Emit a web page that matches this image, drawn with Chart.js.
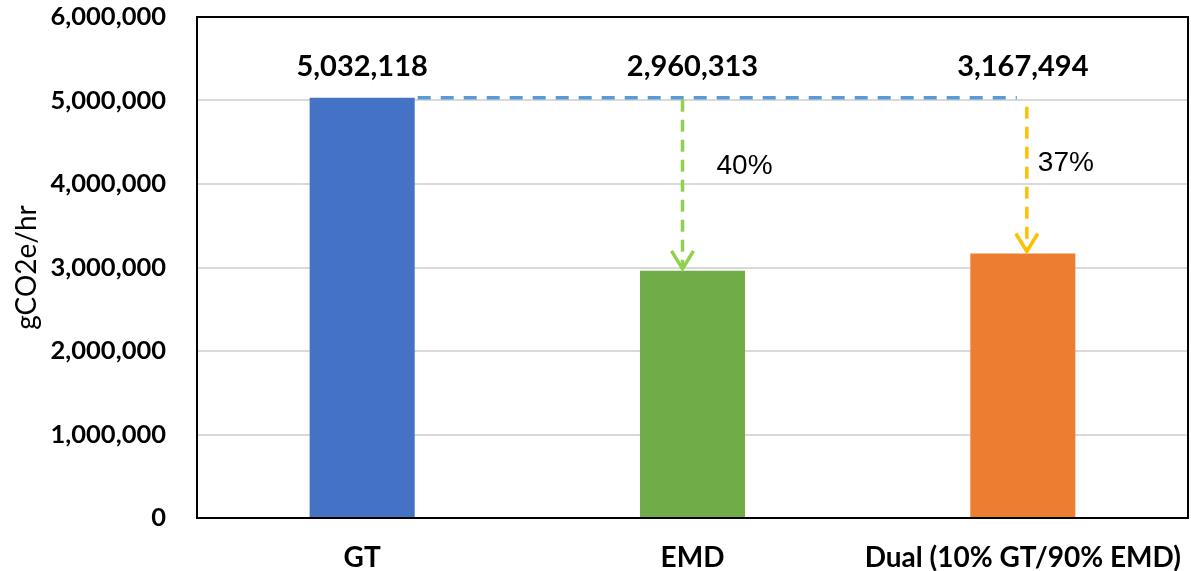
<!DOCTYPE html>
<html>
<head>
<meta charset="utf-8">
<script src="https://cdn.jsdelivr.net/npm/chart.js@4/dist/chart.umd.min.js"></script>
<style>
  html, body { margin: 0; padding: 0; background: #fff; }
  #wrap { width: 1191px; height: 571px; }
</style>
</head>
<body>
<div id="wrap"><canvas id="chart"></canvas></div>
<script>
// --- data ---
const categories = ["GT", "EMD", "Dual (10% GT/90% EMD)"];
const emissions = [5032118, 2960313, 3167494];
const barColors = ["#4472C4", "#70AD47", "#ED7D31"];
const reductionLabels = ["", "40%", "37%"];
const arrowColors = ["", "#92D050", "#FFC000"];
const yTicks = [0, 1000000, 2000000, 3000000, 4000000, 5000000, 6000000];

const fmt = v => v.toLocaleString("en-US");

// value labels, the baseline line and the reduction arrows
const overlay = {
  id: "overlay",
  afterDatasetsDraw(chart) {
    const ctx = chart.ctx;
    const area = chart.chartArea;
    const y = chart.scales.y;
    const bars = chart.getDatasetMeta(0).data;
    const base = y.getPixelForValue(emissions[0]);

    ctx.save();
    // dashed baseline from GT bar across to the last category
    ctx.strokeStyle = "#5B9BD5";
    ctx.lineWidth = 3.5;
    ctx.setLineDash([13, 10]);
    ctx.beginPath();
    ctx.moveTo(bars[0].x + bars[0].width / 2 + 3, base);
    ctx.lineTo(bars[2].x - 6, base);
    ctx.stroke();

    // arrows down to each lower bar
    for (let i = 1; i < bars.length; i++) {
      const x = bars[i].x + (i === 1 ? -10 : 4);
      const top = base + (i === 1 ? 2 : 9);
      const end = y.getPixelForValue(emissions[i]);
      ctx.strokeStyle = arrowColors[i];
      ctx.lineWidth = 3.5;
      ctx.setLineDash([12, 8]);
      ctx.beginPath();
      ctx.moveTo(x, top);
      ctx.lineTo(x, end - 4);
      ctx.stroke();
      ctx.setLineDash([]);
      ctx.beginPath();
      ctx.moveTo(x - 11, end - 20);
      ctx.lineTo(x, end - 2);
      ctx.lineTo(x + 11, end - 20);
      ctx.stroke();

      ctx.fillStyle = "#000";
      ctx.font = "28px 'Liberation Sans', Arial, sans-serif";
      ctx.textAlign = "left";
      ctx.textBaseline = "middle";
      ctx.fillText(reductionLabels[i], x + (i === 1 ? 34 : 11), area.top + (i === 1 ? 149 : 146));
    }

    // value labels sit on one row near the top
    ctx.fillStyle = "#000";
    ctx.font = "bold 29px Lato, sans-serif";
    ctx.textAlign = "center";
    ctx.textBaseline = "middle";
    bars.forEach((b, i) => ctx.fillText(fmt(emissions[i]), b.x, area.top + 50));

    // black frame round the plot area
    ctx.strokeStyle = "#000";
    ctx.lineWidth = 2;
    ctx.strokeRect(area.left, area.top, area.right - area.left, area.bottom - area.top);
    ctx.restore();
  }
};

new Chart(document.getElementById("chart"), {
  type: "bar",
  data: {
    labels: categories,
    datasets: [{
      data: emissions,
      backgroundColor: barColors,
      categoryPercentage: 1,
      barPercentage: 0.318
    }]
  },
  options: {
    responsive: true,
    maintainAspectRatio: false,
    animation: false,
    layout: { padding: { top: 17, right: 3, left: 0, bottom: 0 } },
    plugins: {
      legend: { display: false },
      tooltip: { enabled: false }
    },
    scales: {
      x: {
        grid: { display: false },
        border: { display: false },
        ticks: {
          color: "#000",
          font: { family: "Lato", weight: "bold", size: 28 },
          padding: 15,
          maxRotation: 0
        },
        afterFit: s => {
          s.height = 53;
          s.paddingLeft = 0;
          s.paddingRight = 0;
        }
      },
      y: {
        min: 0,
        max: 6000000,
        afterBuildTicks: s => { s.ticks = yTicks.map(v => ({ value: v })); },
        grid: { color: "#D9D9D9", lineWidth: 2, drawTicks: false },
        border: { display: false },
        ticks: {
          color: "#000",
          font: { family: "Lato", weight: "bold", size: 25.5 },
          padding: 31,
          callback: v => fmt(v)
        },
        title: {
          display: true,
          text: "gCO2e/hr",
          color: "#000",
          font: { family: "Lato", size: 28 },
          padding: { top: 10, bottom: 0 }
        },
        afterFit: s => {
          s.width = 197;
          s.paddingTop = 0;
          s.paddingBottom = 0;
        }
      }
    }
  },
  plugins: [overlay]
});
</script>
</body>
</html>
